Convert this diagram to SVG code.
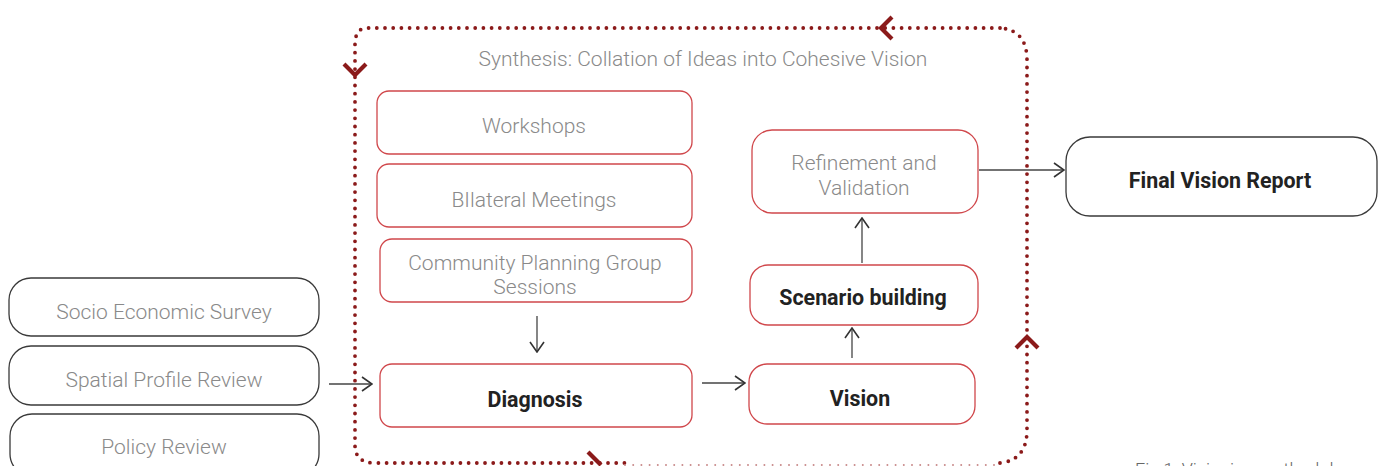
<svg xmlns="http://www.w3.org/2000/svg" width="1382" height="466" viewBox="0 0 1382 466">
<style>
.bg{fill:#fff}
.rbox{fill:#fff;stroke:#d0474b;stroke-width:1.3}
.kbox{fill:#fff;stroke:#3a3a3a;stroke-width:1.3}
.lt{font-family:"Roboto Light",Roboto,"Liberation Sans",sans-serif;font-weight:300;font-size:21px;fill:#8a8a8a;text-anchor:middle}
.bd{font-family:Roboto,"Liberation Sans",sans-serif;font-weight:700;font-size:21.4px;fill:#222;text-anchor:middle}
.dot{fill:none;stroke:#8b1a1a;stroke-width:3.8;stroke-linecap:round;stroke-dasharray:0 8.2}
.dotf{fill:none;stroke:#c98a8a;stroke-width:2;stroke-linecap:round;stroke-dasharray:0 8.2}
.chev{fill:none;stroke:#8b1a1a;stroke-width:4.2}
.con{fill:none;stroke:#444;stroke-width:1.3}
</style>
<defs>
<marker id="ah" viewBox="0 0 12 16" refX="11" refY="8" markerWidth="12" markerHeight="16" markerUnits="userSpaceOnUse" orient="auto">
<path d="M1,1 L11,8 L1,15" fill="none" stroke="#333" stroke-width="1.6"/>
</marker>
</defs>
<rect class="bg" x="0" y="0" width="1382" height="466"/>

<g id="loop">
<path class="dot" d="M1000,28 L367,28 Q355,28 355,45 L355,445 Q355,463 375,463 L625,463"/>
<path class="dotf" d="M625,465 L1000,465"/>
<path class="dot" d="M1000,463 Q1027,460 1027,430 L1027,60 Q1027,30 1000,28"/>
<path class="chev" d="M892,17 L881,28 L892,39"/>
<path class="chev" d="M344,64 L355,75 L366,64"/>
<path class="chev" d="M588,452 L601,465"/>
<path class="chev" d="M1016,348 L1027,337 L1038,348"/>
</g>

<text class="lt" x="703" y="66">Synthesis: Collation of Ideas into Cohesive Vision</text>

<g id="connectors">
<path class="con" d="M329,384 L372,384" marker-end="url(#ah)"/>
<path class="con" d="M537,316 L537,352" marker-end="url(#ah)"/>
<path class="con" d="M702,383 L745,383" marker-end="url(#ah)"/>
<path class="con" d="M852,358 L852,328" marker-end="url(#ah)"/>
<path class="con" d="M862,263 L862,218" marker-end="url(#ah)"/>
<path class="con" d="M979,170 L1064,170" marker-end="url(#ah)"/>
</g>

<g id="workshops"><rect class="rbox" x="377" y="91" width="315" height="63" rx="12"/><text class="lt" x="534" y="133">Workshops</text></g>
<g id="bilateral"><rect class="rbox" x="377" y="164" width="315" height="63" rx="12"/><text class="lt" x="534" y="207">BIlateral Meetings</text></g>
<g id="cpg"><rect class="rbox" x="380" y="239" width="312" height="63" rx="12"/><text class="lt" x="535" y="270">Community Planning Group</text><text class="lt" x="535" y="294">Sessions</text></g>
<g id="diagnosis"><rect class="rbox" x="380" y="364" width="312" height="63" rx="12"/><text class="bd" x="535" y="407">Diagnosis</text></g>
<g id="vision"><rect class="rbox" x="749" y="364" width="226" height="60" rx="18"/><text class="bd" x="860" y="406">Vision</text></g>
<g id="scenario"><rect class="rbox" x="750" y="265" width="228" height="60" rx="18"/><text class="bd" x="863" y="305">Scenario building</text></g>
<g id="refinement"><rect class="rbox" x="752" y="130" width="226" height="83" rx="20"/><text class="lt" x="864" y="170">Refinement and</text><text class="lt" x="864" y="195">Validation</text></g>
<g id="final"><rect class="kbox" x="1066" y="137" width="311" height="79" rx="24"/><text class="bd" x="1220" y="188">Final Vision Report</text></g>
<g id="socio"><rect class="kbox" x="9" y="278" width="310" height="58" rx="22"/><text class="lt" x="164" y="319">Socio Economic Survey</text></g>
<g id="spatial"><rect class="kbox" x="9" y="346" width="310" height="59" rx="22"/><text class="lt" x="164" y="387">Spatial Profile Review</text></g>
<g id="policy"><rect class="kbox" x="10" y="414" width="309" height="62" rx="22"/><text class="lt" x="164" y="454">Policy Review</text></g>

<text font-family="Roboto,'Liberation Sans',sans-serif" font-weight="300" font-size="18" fill="#666" x="1135" y="476">Fig 1: Visioning methodology</text>
</svg>
